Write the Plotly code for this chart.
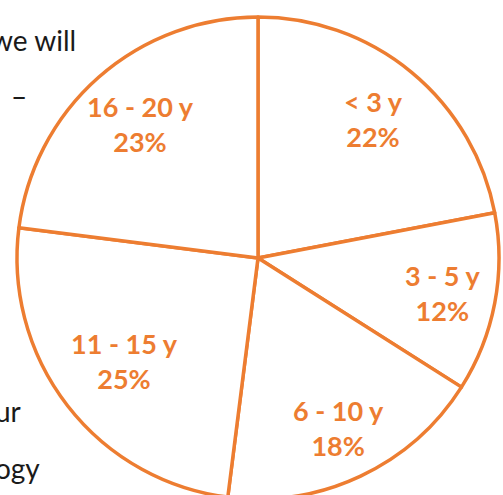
import math
import plotly.graph_objects as go

categories = ["< 3 y", "3 - 5 y", "6 - 10 y", "11 - 15 y", "16 - 20 y"]
shares = [22, 12, 18, 25, 23]
side_text = ["we will", "–", "ur", "ogy"]

ORANGE = "#ED7D31"
W, H = 503, 510
cx, cy, r = 258, 258, 241
label_radius = [0.75, 0.78, 0.78, 0.70, 0.74]   # label distance from centre, as share of radius

fig = go.Figure(go.Pie(
    labels=categories,
    values=shares,
    sort=False,
    direction="clockwise",
    rotation=0,
    marker=dict(colors=["white"] * 5, line=dict(color=ORANGE, width=3.5)),
    textinfo="none",
    hoverinfo="skip",
    domain=dict(x=[(cx - r) / W, (cx + r) / W],
                y=[(H - cy - r) / H, (H - cy + r) / H]),
    showlegend=False,
))

# data labels at the middle angle of each slice
total = sum(shares)
cum = 0
for lab, v, f in zip(categories, shares, label_radius):
    mid = (cum + v / 2) / total * 2 * math.pi
    cum += v
    px = cx + f * r * math.sin(mid)
    py = cy - f * r * math.cos(mid)
    fig.add_annotation(text=f"{lab}<br>{round(v / total * 100)}%",
                       x=px / W, y=1 - py / H, xref="paper", yref="paper",
                       xanchor="center", yanchor="middle", showarrow=False,
                       font=dict(family="Lato", size=27, color=ORANGE, weight="bold"))

# right edge / vertical middle of the cut-off body text on the left
side_pos = [(78, 40), (29, 96), (23, 411), (42, 468)]
for t, (x, y) in zip(side_text, side_pos):
    fig.add_annotation(text=t, x=x / W, y=1 - y / H, xref="paper", yref="paper",
                       xanchor="right", yanchor="middle", showarrow=False,
                       font=dict(family="Lato", size=28, color="#1a1a1a"))

fig.update_layout(width=W, height=H, margin=dict(l=0, r=0, t=0, b=0),
                  paper_bgcolor="white", plot_bgcolor="white")

fig.write_html("out.html", config={"displayModeBar": False},
               post_script="document.body.style.overflow='hidden';document.body.style.margin='0';")
